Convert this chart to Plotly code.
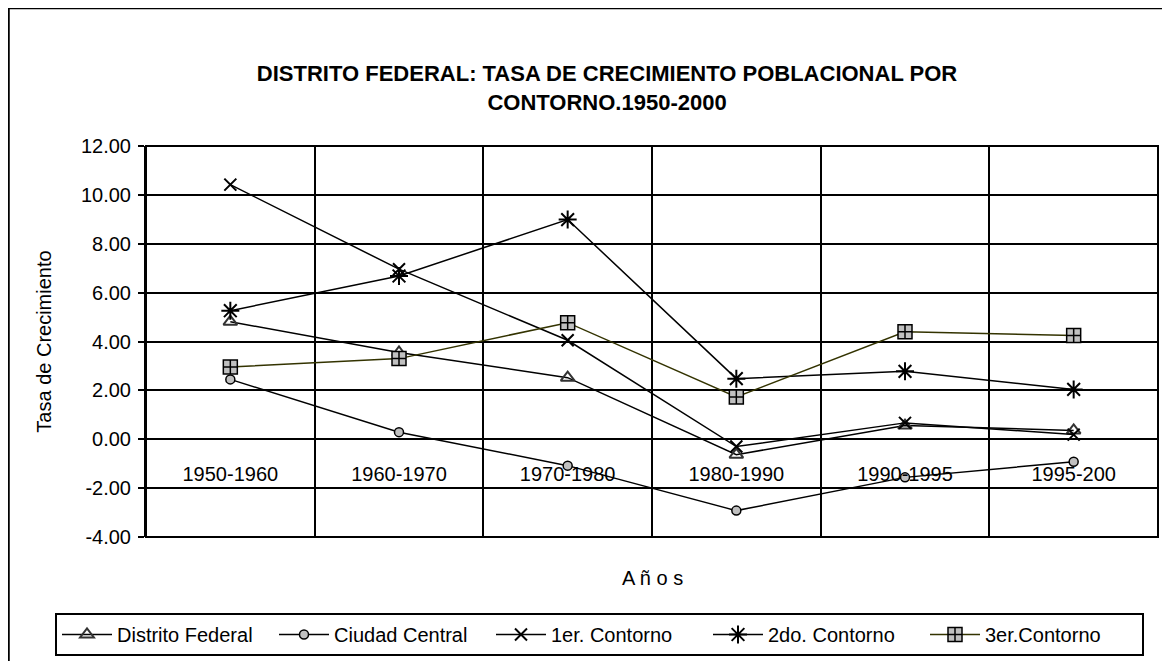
import plotly.graph_objects as go

categories = ["1950-1960", "1960-1970", "1970-1980", "1980-1990", "1990-1995", "1995-200"]
distrito_federal = [4.81, 3.55, 2.52, -0.63, 0.56, 0.36]
ciudad_central = [2.45, 0.29, -1.08, -2.92, -1.56, -0.92]
primer_contorno = [10.42, 6.96, 4.05, -0.30, 0.67, 0.19]
segundo_contorno = [5.26, 6.68, 8.99, 2.48, 2.78, 2.04]
tercer_contorno = [2.96, 3.30, 4.77, 1.73, 4.40, 4.25]
y_ticks = [-4, -2, 0, 2, 4, 6, 8, 10, 12]
y_ticktext = [f"{v:.2f}" for v in y_ticks]

FONT = "Liberation Sans, Arial, sans-serif"
W, H = 1170, 661
L, R, T, B = 138, 20, 138, 132
pw = W - L - R
ph = H - T - B


def px_x(x):
    return (x - L) / pw


def px_y(y):
    return (H - B - y) / ph


fig = go.Figure()

fig.add_trace(go.Scatter(
    x=categories, y=distrito_federal, name="Distrito Federal", mode="lines+markers",
    line=dict(color="black", width=1.5),
    marker=dict(symbol="triangle-up-open", size=12, color="#333333", line=dict(width=2, color="#333333")),
))
fig.add_trace(go.Scatter(
    x=categories, y=ciudad_central, name="Ciudad Central", mode="lines+markers",
    line=dict(color="black", width=1.5),
    marker=dict(symbol="circle", size=9, color="#c0c0c0", line=dict(width=1.5, color="black")),
))
fig.add_trace(go.Scatter(
    x=categories, y=primer_contorno, name="1er. Contorno", mode="lines+markers",
    line=dict(color="black", width=1.5),
    marker=dict(symbol="x-thin-open", size=12, color="black", line=dict(width=2, color="black")),
))
fig.add_trace(go.Scatter(
    x=categories, y=segundo_contorno, name="2do. Contorno", mode="lines+markers",
    line=dict(color="black", width=1.5),
    marker=dict(symbol="asterisk-open", size=15, color="black", line=dict(width=2, color="black")),
))
fig.add_trace(go.Scatter(
    x=categories, y=tercer_contorno, name="3er.Contorno", mode="lines+markers",
    line=dict(color="#333300", width=1.5),
    marker=dict(symbol="square-cross", size=14, color="#c0c0c0", line=dict(width=1.5, color="black")),
))

# plot-area border and outer chart border
fig.add_shape(type="rect", xref="paper", yref="paper", x0=0, x1=1, y0=0, y1=1,
              line=dict(color="black", width=2), layer="below")
fig.add_shape(type="rect", xref="paper", yref="paper",
              x0=px_x(0.5), x1=px_x(W + 20), y0=px_y(H + 20), y1=px_y(0),
              line=dict(color="black", width=2.5), layer="below")

fig.update_layout(
    width=W, height=H,
    margin=dict(l=L, r=R, t=T, b=B, autoexpand=False),
    paper_bgcolor="white", plot_bgcolor="white",
    font=dict(family=FONT, size=20, color="black"),
    title=dict(
        text="<b>DISTRITO FEDERAL: TASA DE CRECIMIENTO POBLACIONAL POR<br>CONTORNO.1950-2000</b>",
        x=0.512, xanchor="center", y=1 - 73 / H, yanchor="top",
        font=dict(family=FONT, size=22, color="black"),
    ),
    showlegend=True,
    legend=dict(
        orientation="h", x=px_x(47), xanchor="left", y=px_y(605), yanchor="top",
        bordercolor="black", borderwidth=2, bgcolor="white",
        font=dict(family=FONT, size=20, color="black"),
        itemwidth=50,
        entrywidth=152, entrywidthmode="pixels",
    ),
    xaxis=dict(
        type="category", anchor="free", position=4 / 16,
        tickson="boundaries", showgrid=True, gridcolor="black", gridwidth=2,
        ticks="", showline=False, zeroline=False,
        ticklabelstandoff=21,
        tickfont=dict(family=FONT, size=20, color="black"),
        range=[-0.5, 5.5],
    ),
    yaxis=dict(
        range=[-4, 12], tickvals=y_ticks, ticktext=y_ticktext,
        showgrid=True, gridcolor="black", gridwidth=2, zeroline=False,
        showline=True, linecolor="black", linewidth=2,
        ticks="outside", ticklen=6, tickwidth=2, tickcolor="black",
        ticklabelstandoff=3,
        tickfont=dict(family=FONT, size=20, color="black"),
        title=dict(text="Tasa de Crecimiento", standoff=24, font=dict(family=FONT, size=20, color="black")),
    ),
    annotations=[dict(
        text="A ñ o s", xref="paper", yref="paper", x=0.5, y=px_y(570),
        xanchor="center", yanchor="middle", showarrow=False,
        font=dict(family=FONT, size=20, color="black"),
    )],
)

fig.write_html("out.html")
